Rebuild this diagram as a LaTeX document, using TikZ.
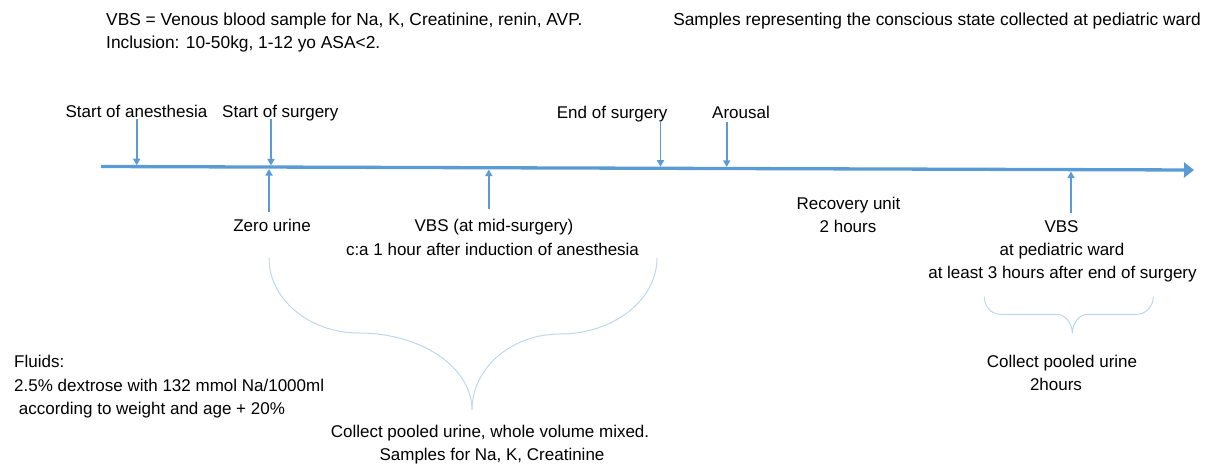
\documentclass[tikz,border=0pt]{standalone}
\usepackage{fontspec}
\setmainfont{Liberation Sans}
\usetikzlibrary{arrows.meta}
\definecolor{tl}{HTML}{5B9BD5}
\definecolor{br}{HTML}{BDD7EE}
\begin{document}
\begin{tikzpicture}[x=1pt,y=-1pt,
  txt/.style={inner sep=0pt, font=\fontsize{17}{23.3}\selectfont, text=black},
  head/.style={txt, font=\fontsize{17.35}{23.3}\selectfont},
  tick/.style={draw=tl, line width=1.7pt, -{Triangle[width=7pt,length=6.5pt]}},
  axis/.style={draw=tl, line width=3.3pt, -{Triangle[width=15pt,length=10pt]}},
  brace/.style={draw=br, line width=1pt}]
\useasboundingbox (0,0) rectangle (1209,466);
% header texts
\node[head, anchor=base west] (vbs) at (106,25) {VBS = Venous blood sample for Na, K, Creatinine, renin, AVP.};
\node[head, anchor=base west] (incl) at (106,48.3) {Inclusion: 10-50kg, 1-12 yo ASA<2.};
\node[head, anchor=base east] (samp) at (1201,25) {Samples representing the conscious state collected at pediatric ward};
% timeline
\coordinate (tl0) at (101,166.5);
\coordinate (tl1) at (1194,170);
\draw[axis] (tl0) -- (tl1);
% labels above
\node[txt, anchor=base] (sa) at (136.5,117.7) {Start of anesthesia};
\node[txt, anchor=base west] (ss) at (222,117.7) {Start of surgery};
\node[txt, anchor=base west] (es) at (556.7,118.3) {End of surgery};
\node[txt, anchor=base west] (ar) at (712,118.3) {Arousal};
% down arrows
\coordinate (d1s) at (136.7,119);   \coordinate (d1e) at (136.7,165.2);
\coordinate (d2s) at (271,119);     \coordinate (d2e) at (271,165.4);
\coordinate (d3s) at (660.5,121);   \coordinate (d3e) at (660.5,166.7);
\coordinate (d4s) at (726.7,121.5); \coordinate (d4e) at (726.7,166.9);
\draw[tick] (d1s) -- (d1e);
\draw[tick] (d2s) -- (d2e);
\draw[tick] (d3s) -- (d3e);
\draw[tick] (d4s) -- (d4e);
% up arrows
\coordinate (u1s) at (269,211.7);   \coordinate (u1e) at (269,169);
\coordinate (u2s) at (488.8,209);   \coordinate (u2e) at (488.8,169.6);
\coordinate (u3s) at (1071,213);    \coordinate (u3e) at (1071,171.5);
\draw[tick] (u1s) -- (u1e);
\draw[tick] (u2s) -- (u2e);
\draw[tick] (u3s) -- (u3e);
% labels below
\node[txt, anchor=base] (zu) at (272,231.7) {Zero urine};
\node[txt, anchor=base] (vm1) at (494,231.7) {VBS (at mid-surgery)};
\node[txt, anchor=base] (vm2) at (492.5,255) {c:a 1 hour after induction of anesthesia};
\node[txt, anchor=base] (ru1) at (848.5,209.3) {Recovery unit};
\node[txt, anchor=base] (ru2) at (848,232.3) {2 hours};
\node[txt, anchor=base] (vw1) at (1061.5,232) {VBS};
\node[txt, anchor=base] (vw2) at (1062,255.7) {at pediatric ward};
\node[txt, anchor=base] (vw3) at (1062.5,278) {at least 3 hours after end of surgery};
\node[txt, anchor=base] (cp1) at (1062,367.3) {Collect pooled urine};
\node[txt, anchor=base] (cp2) at (1056,390.7) {2hours};
\node[txt, anchor=base west] (fl1) at (14,367.5) {Fluids:};
\node[txt, anchor=base west] (fl2) at (14,391) {2.5\% dextrose with 132 mmol Na/1000ml};
\node[txt, anchor=base west] (fl3) at (18.7,414.3) {according to weight and age + 20\%};
\node[txt, anchor=base] (cu1) at (490,437.3) {Collect pooled urine, whole volume mixed.};
\node[txt, anchor=base] (cu2) at (492,460.7) {Samples for Na, K, Creatinine};
% braces
\draw[brace] (269,258) .. controls (269,299) and (309,333) .. (359,333)
  .. controls (421.4,333) and (472,367.5) .. (472,410)
  .. controls (472,368) and (511.4,334) .. (560,334)
  .. controls (613.5,334) and (657,300) .. (657,258);
\draw[brace] (984.3,296.7) .. controls (984.3,306.4) and (991.2,314.3) .. (1000,314.3)
  -- (1056.7,314.3) .. controls (1065.3,314.3) and (1072.3,323) .. (1072.3,333.3)
  .. controls (1072.3,323) and (1079.3,314.3) .. (1088,314.3)
  -- (1136.7,314.3) .. controls (1145.9,314.3) and (1153.3,306.4) .. (1153.3,296.7);
\end{tikzpicture}
\end{document}
